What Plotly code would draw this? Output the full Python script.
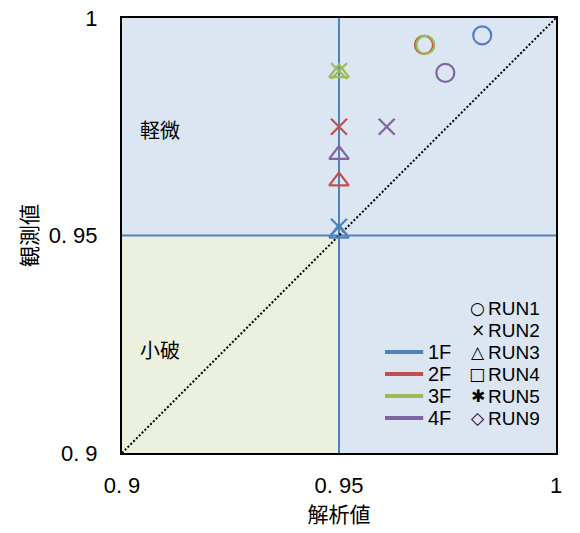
import plotly.graph_objects as go

# ---------------- data ----------------
floors = ["1F", "2F", "3F", "4F"]
floor_colors = ["#4F81BD", "#C0504D", "#9BBB59", "#8064A2"]

# analysis value (x) / observed value (y) per run, per floor
run1_x = [0.983, 0.9696, 0.9699, 0.9745]
run1_y = [0.996, 0.9938, 0.9938, 0.9874]
run2_x = [0.950, 0.950, 0.950, 0.961]
run2_y = [0.952, 0.975, 0.9878, 0.975]
run3_x = [0.950, 0.950, 0.950, 0.950]
run3_y = [0.9505, 0.9625, 0.9874, 0.9686]

run_labels = ["RUN1", "RUN2", "RUN3", "RUN4", "RUN5", "RUN9"]
run_glyphs = ["○", "×", "△", "□", "✱", "◇"]

x_ticks = [0.9, 0.95, 1.0]
x_ticktext = ["0. 9", "0. 95", "1"]
y_ticks = [0.9, 0.95, 1.0]
y_ticktext = ["0. 9", "0. 95", "1"]

threshold = 0.95
axis_min, axis_max = 0.9, 1.0

zone_upper = "軽微"
zone_lower = "小破"
x_title = "解析値"
y_title = "観測値"

# ---------------- figure ----------------
SANS = "Liberation Sans, Arial, sans-serif"
SYM = "DejaVu Sans, sans-serif"
CJK = "Noto Sans CJK JP, sans-serif"

fig = go.Figure()

# 1:1 diagonal
fig.add_trace(go.Scatter(x=[axis_min, axis_max], y=[axis_min, axis_max], mode="lines",
                         line=dict(color="black", width=2, dash="2px,2px"),
                         showlegend=False, hoverinfo="skip"))

runs = [
    (run1_x, run1_y, "circle-open", 18),
    (run2_x, run2_y, "x-thin-open", 16),
    (run3_x, run3_y, "triangle-up-open", 17),
]
for rx, ry, sym, size in runs:
    for i, f in enumerate(floors):
        fig.add_trace(go.Scatter(
            x=[rx[i]], y=[ry[i]], mode="markers",
            marker=dict(symbol=sym, size=size, color=floor_colors[i],
                        line=dict(color=floor_colors[i], width=2.2)),
            showlegend=False, name=f))

# background zones and threshold lines
fig.add_shape(type="rect", x0=axis_min, x1=threshold, y0=axis_min, y1=threshold,
              fillcolor="#EBF1DE", line=dict(width=0), layer="below")
fig.add_shape(type="line", x0=threshold, x1=threshold, y0=axis_min, y1=axis_max,
              line=dict(color="#4F81BD", width=2), layer="below")
fig.add_shape(type="line", x0=axis_min, x1=axis_max, y0=threshold, y1=threshold,
              line=dict(color="#4F81BD", width=2), layer="below")

# zone labels
fig.add_annotation(x=0.9088, y=0.9743, text=zone_upper, showarrow=False,
                   font=dict(family=CJK, size=20, color="black"))
fig.add_annotation(x=0.9088, y=0.9237, text=zone_lower, showarrow=False,
                   font=dict(family=CJK, size=20, color="black"))

# manual legend: floors (lines)
row_h = 22 / 4350.0
for i, f in enumerate(floors):
    yy = 1 - (352 - 18) / 4350.0 - i * row_h
    fig.add_shape(type="line", x0=0.9606, x1=0.9694, y0=yy, y1=yy,
                  line=dict(color=floor_colors[i], width=4))
    fig.add_annotation(x=0.9703, y=yy, text=f, showarrow=False, xanchor="left",
                       height=20, borderpad=0,
                       font=dict(family=SANS, size=20, color="black"))

# manual legend: runs (symbols)
for i, (lab, g) in enumerate(zip(run_labels, run_glyphs)):
    yy = 1 - (308 - 18) / 4350.0 - i * row_h
    fig.add_annotation(x=0.9838, y=yy, text=g, showarrow=False, xanchor="right",
                       height=18, borderpad=0,
                       font=dict(family=SYM, size=17, color="black"))
    fig.add_annotation(x=0.9841, y=yy, text=lab, showarrow=False, xanchor="left",
                       height=20, borderpad=0,
                       font=dict(family=SANS, size=19, color="black"))

fig.update_xaxes(range=[axis_min, axis_max], tickvals=x_ticks, ticktext=x_ticktext,
                 showgrid=False, zeroline=False, showline=True, mirror=True,
                 linecolor="black", linewidth=2, ticks="", automargin=False,
                 ticklabelstandoff=12,
                 tickfont=dict(family=SANS, size=22, color="black"),
                 title=dict(text=x_title, standoff=8,
                            font=dict(family=CJK, size=21, color="black")))
fig.update_yaxes(range=[axis_min, axis_max], tickvals=y_ticks, ticktext=y_ticktext,
                 showgrid=False, zeroline=False, showline=True, mirror=True,
                 linecolor="black", linewidth=2, ticks="", automargin=False,
                 ticklabelstandoff=18,
                 tickfont=dict(family=SANS, size=22, color="black"),
                 title=dict(text=y_title, standoff=5,
                            font=dict(family=CJK, size=21, color="black")))

fig.update_layout(width=580, height=533, margin=dict(l=122, r=24, t=18, b=80),
                  plot_bgcolor="#DCE6F2", paper_bgcolor="white", showlegend=False)

fig.write_html("out.html", config={"displayModeBar": False},
               post_script="document.body.style.margin='0';document.body.style.padding='0';")
